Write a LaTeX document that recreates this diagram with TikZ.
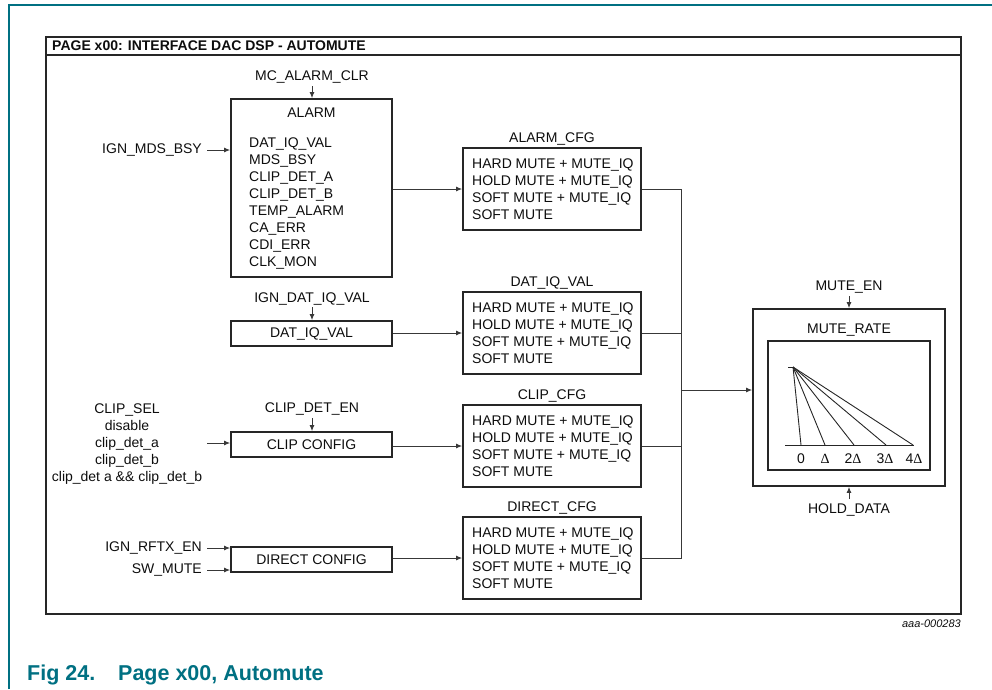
\documentclass[tikz,border=0pt]{standalone}
\usepackage{fontspec}
\setmainfont{Liberation Sans}
\newfontfamily\serifdelta{Liberation Serif}
\usetikzlibrary{arrows.meta}
\definecolor{nxpteal}{RGB}{0,112,130}
\newcommand{\dlt}{{\serifdelta Δ}}
\begin{document}
\begin{tikzpicture}[x=1pt,y=-1pt,
  every node/.style={font=\fontsize{14}{17}\selectfont, inner sep=0pt, text=black!95},
  box/.style={draw=black!85, line width=1.7pt},
  conn/.style={draw=black!78, line width=1pt},
  arr/.style={conn, -{Latex[length=6pt,width=5pt]}},
  thin/.style={draw=black!85, line width=0.9pt},
  cfgbox/.style={box, minimum width=178pt, minimum height=82pt},
  smallbox/.style={box, minimum width=161pt, minimum height=25pt},
  cfgtext/.style={align=left, anchor=west}]
\useasboundingbox (0,0) rectangle (992,689);
% page decoration
\draw[nxpteal, line width=1.4pt] (9,689) -- (9,5) -- (992,5);
% frame
\node[box, minimum width=915pt, minimum height=577pt] (frame) at (503.5,325.5) {};
\coordinate (sep) at (0,55);
\draw[box] (frame.west |- sep) -- (frame.east |- sep);
\node[anchor=west, font=\fontsize{14}{16}\selectfont\bfseries] (title) at (52,46) {PAGE x00: INTERFACE DAC DSP - AUTOMUTE};

% ALARM block
\node[box, minimum width=161pt, minimum height=178pt] (alarm) at (311.5,188) {};
\node (alarmttl) at (311.5,113) {ALARM};
\node[cfgtext] (alarmlist) at (249,203) {DAT\_IQ\_VAL\\MDS\_BSY\\CLIP\_DET\_A\\CLIP\_DET\_B\\TEMP\_ALARM\\CA\_ERR\\CDI\_ERR\\CLK\_MON};
\node (mcclr) at (312,77) {MC\_ALARM\_CLR};
\draw[arr] ([yshift=-9pt]mcclr.center) -- (mcclr.center |- alarm.north);
\node[anchor=east] (ignmds) at (202,150) {IGN\_MDS\_BSY};
\draw[arr] ([xshift=5pt]ignmds.east) -- (ignmds.east -| alarm.west);

% DAT_IQ_VAL block
\node[smallbox] (datval) at (311.5,333.5) {DAT\_IQ\_VAL};
\node (igndat) at (312,299) {IGN\_DAT\_IQ\_VAL};
\draw[arr] ([yshift=-8pt]igndat.center) -- (igndat.center |- datval.north);

% CLIP CONFIG block
\node[smallbox] (clipconf) at (311.5,444.5) {CLIP CONFIG};
\node (clipdeten) at (312,409) {CLIP\_DET\_EN};
\draw[arr] ([yshift=-9pt]clipdeten.center) -- (clipdeten.center |- clipconf.north);
\node[align=center] (clipsel) at (127,444) {CLIP\_SEL\\disable\\clip\_det\_a\\clip\_det\_b\\clip\_det a \&\& clip\_det\_b};
\coordinate (clipin) at (207,443);
\draw[arr] (clipin) -- (clipin -| clipconf.west);

% DIRECT CONFIG block
\node[smallbox] (directconf) at (311.5,559.5) {DIRECT CONFIG};
\node[anchor=east] (rftx) at (202,548) {IGN\_RFTX\_EN};
\node[anchor=east] (swmute) at (202,570) {SW\_MUTE};
\draw[arr] ([xshift=5pt]rftx.east) -- (rftx.east -| directconf.west);
\draw[arr] ([xshift=5pt]swmute.east) -- (swmute.east -| directconf.west);

% CFG boxes
\node[cfgbox] (alarmcfg) at (552,189) {};
\node[cfgtext] at (472,189.5) {HARD MUTE + MUTE\_IQ\\HOLD MUTE + MUTE\_IQ\\SOFT MUTE + MUTE\_IQ\\SOFT MUTE};
\node (alarmcfgl) at (552,139) {ALARM\_CFG};

\node[cfgbox] (datcfg) at (552,333) {};
\node[cfgtext] at (472,333.5) {HARD MUTE + MUTE\_IQ\\HOLD MUTE + MUTE\_IQ\\SOFT MUTE + MUTE\_IQ\\SOFT MUTE};
\node (datcfgl) at (552,283) {DAT\_IQ\_VAL};

\node[cfgbox] (clipcfg) at (552,446) {};
\node[cfgtext] at (472,446.5) {HARD MUTE + MUTE\_IQ\\HOLD MUTE + MUTE\_IQ\\SOFT MUTE + MUTE\_IQ\\SOFT MUTE};
\node (clipcfgl) at (552,396) {CLIP\_CFG};

\node[cfgbox] (directcfg) at (552,558) {};
\node[cfgtext] at (472,558.5) {HARD MUTE + MUTE\_IQ\\HOLD MUTE + MUTE\_IQ\\SOFT MUTE + MUTE\_IQ\\SOFT MUTE};
\node (directcfgl) at (552,508) {DIRECT\_CFG};

% connections block -> cfg
\draw[arr] (alarm.east |- alarmcfg.west) -- (alarmcfg.west);
\draw[arr] (datval.east |- datcfg.west) -- (datcfg.west);
\draw[arr] (clipconf.east |- clipcfg.west) -- (clipcfg.west);
\draw[arr] (directconf.east |- directcfg.west) -- (directcfg.west);

% MUTE block
\node[box, minimum width=192pt, minimum height=177pt] (mute) at (849,397.5) {};
\node[box, minimum width=162pt, minimum height=129pt] (rate) at (849,405.5) {};
\node (ratel) at (849,330) {MUTE\_RATE};
\node (muteen) at (849,287) {MUTE\_EN};
\draw[arr] ([yshift=-9pt]muteen.center) -- (muteen.center |- mute.north);
\node (hold) at (849,510) {HOLD\_DATA};
\draw[arr] ([yshift=11pt]hold.center) -- (hold.center |- mute.south);

% bus
\coordinate (bus) at (681,390);
\draw[conn] (alarmcfg.east) -- (alarmcfg.east -| bus) -- (directcfg.east -| bus) -- (directcfg.east);
\draw[conn] (datcfg.east) -- (datcfg.east -| bus);
\draw[conn] (clipcfg.east) -- (clipcfg.east -| bus);
\draw[arr] (bus) -- (bus -| mute.west);

% mute rate chart
\coordinate (apex) at (793,367);
\coordinate (tick) at (788,367);
\coordinate (axl) at (785,445);
\coordinate (axr) at (914,445);
\draw[thin] (tick) -- (apex);
\draw[thin] (axl) -- (axr);
\coordinate (p0) at (801,445);
\coordinate (p1) at (825,445);
\coordinate (p2) at (854,445);
\coordinate (p3) at (886,445);
\coordinate (p4) at (913,445);
\foreach \p in {p0,p1,p2,p3,p4} \draw[thin] (apex) -- (\p);
\node (l0) at (801,459) {0};
\node (l1) at (825,459) {\dlt};
\node (l2) at (853,459) {2\dlt};
\node (l3) at (885,459) {3\dlt};
\node (l4) at (914,459) {4\dlt};

% figure id and caption
\node[anchor=east, font=\fontsize{11}{13}\selectfont\itshape] (figid) at (961,624) {aaa-000283};
\node[anchor=base west, text=nxpteal, font=\fontsize{21.5}{25}\selectfont\bfseries] (capnum) at (27,680) {Fig 24.};
\node[anchor=base west, text=nxpteal, font=\fontsize{21.5}{25}\selectfont\bfseries] (captxt) at (118,680) {Page x00, Automute};
\end{tikzpicture}
\end{document}
